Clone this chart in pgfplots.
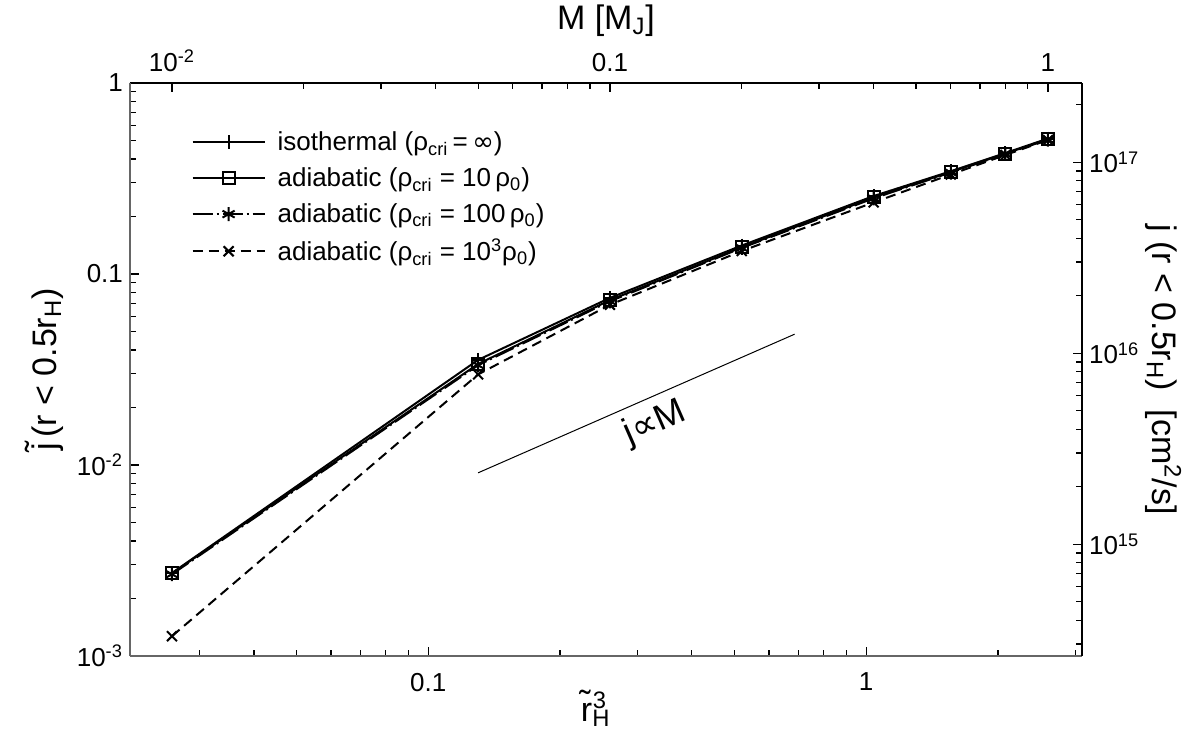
\documentclass[border=0pt]{standalone}
\usepackage{pgfplots}
\pgfplotsset{compat=1.18}
\usepackage{fontspec}
\setmainfont{Liberation Sans}
\newfontfamily\dejavu{DejaVu Sans}
\begin{document}
\begin{tikzpicture}
\useasboundingbox (0,0) rectangle (598pt,364.5pt);
\pgfplotsset{
  every axis/.append style={
    scale only axis, width=476pt, height=286.5pt,
    at={(65pt,36.5pt)}, anchor=south west,
    tick label style={font=\fontsize{13}{15}\selectfont},
    label style={font=\fontsize{17}{20}\selectfont},
    axis line style={line width=0.8pt},
    major tick length=4.5pt, minor tick length=2.8pt,
    every tick/.style={black, line width=0.6pt},
    xmode=log, ymode=log,
  },
  legend image code/.code={
    \draw[#1, mark repeat=2, mark phase=2] plot coordinates {(0pt,0pt) (18pt,0pt) (36pt,0pt)};
  },
}
% main axis: top M [M_J], left tilde j
\begin{axis}[
  xmin=0.00802, xmax=1.196, ymin=0.001, ymax=1,
  axis x line*=top, axis y line*=left,
  y axis line style={black!60, line width=1.1pt},
  xtick={0.01,0.1,1}, xticklabels={10\textsuperscript{-2},0.1,1},
  xticklabel style={yshift=2pt},
  minor xtick={0.02,0.03,0.04,0.05,0.06,0.07,0.08,0.09,0.2,0.3,0.4,0.5,0.6,0.7,0.8,0.9},
  ytick={0.001,0.01,0.1,1}, yticklabels={10\textsuperscript{-3},10\textsuperscript{-2},0.1,1},
  minor ytick={0.002,0.003,0.004,0.005,0.006,0.007,0.008,0.009,0.02,0.03,0.04,0.05,0.06,0.07,0.08,0.09,0.2,0.3,0.4,0.5,0.6,0.7,0.8,0.9},
  xlabel={M [M\textsubscript{J}]},
  ylabel={\~{j}\,(r < 0.5r\textsubscript{H})},
  legend style={draw=none, fill=none, at={(0.058,0.93)}, anchor=north west,
    font=\fontsize{13}{15}\selectfont, row sep=3pt, legend cell align=left,
    /tikz/every odd column/.append style={column sep=4pt}},
]
\addplot[black, line width=1pt, mark=+, mark size=3.5pt, mark options={solid}] coordinates {
 (0.01,0.00272) (0.05,0.0355) (0.1,0.075) (0.2,0.141) (0.4,0.256) (0.6,0.345) (0.8,0.43) (1.0,0.512)};
\addlegendentry{isothermal (ρ\textsubscript{cri}\,=\,{\dejavu ∞})}
\addplot[black, line width=1pt, mark=square, mark size=3pt, mark options={solid}] coordinates {
 (0.01,0.00271) (0.05,0.0338) (0.1,0.073) (0.2,0.138) (0.4,0.252) (0.6,0.342) (0.8,0.427) (1.0,0.508)};
\addlegendentry{adiabatic (ρ\textsubscript{cri} = 10\,ρ\textsubscript{0})}
\addplot[black, line width=1pt, dash pattern=on 10pt off 2pt on 1pt off 2pt, mark=asterisk, mark size=3.5pt, mark options={solid}] coordinates {
 (0.01,0.00268) (0.05,0.0333) (0.1,0.072) (0.2,0.137) (0.4,0.249) (0.6,0.34) (0.8,0.425) (1.0,0.506)};
\addlegendentry{adiabatic (ρ\textsubscript{cri} = 100\,ρ\textsubscript{0})}
\addplot[black, line width=1pt, dash pattern=on 5pt off 3pt, mark=x, mark size=3.5pt, mark options={solid}] coordinates {
 (0.01,0.00127) (0.05,0.0298) (0.1,0.069) (0.2,0.132) (0.4,0.237) (0.6,0.332) (0.8,0.42) (1.0,0.503)};
\addlegendentry{adiabatic (ρ\textsubscript{cri} = 10\textsuperscript{3}ρ\textsubscript{0})}
\addplot[black, line width=0.5pt, forget plot] coordinates {(0.05,0.0091) (0.264,0.0484)};
\node[rotate=23.6, font=\fontsize{18}{20}\selectfont] at (axis cs:0.127,0.0165) {j{\dejavu ∝}M};
\end{axis}
% secondary axis: bottom tilde r_H^3, right j
\begin{axis}[
  xmin=0.02085, xmax=3.11, ymin=2.6e14, ymax=2.6e17,
  axis x line*=bottom, axis y line*=right,
  x axis line style={black!60, line width=1.1pt},
  xtick={0.1,1}, xticklabels={0.1,1},
  xticklabel style={yshift=-5pt},
  minor xtick={0.03,0.04,0.05,0.06,0.07,0.08,0.09,0.2,0.3,0.4,0.5,0.6,0.7,0.8,0.9,2,3},
  ytick={1e15,1e16,1e17}, yticklabels={10\textsuperscript{15},10\textsuperscript{16},10\textsuperscript{17}},
  minor ytick={3e14,4e14,5e14,6e14,7e14,8e14,9e14,2e15,3e15,4e15,5e15,6e15,7e15,8e15,9e15,2e16,3e16,4e16,5e16,6e16,7e16,8e16,9e16,2e17},
  xlabel={\~{r}\textsubscript{H}\hspace{-0.52em}\textsuperscript{3}},
  xlabel style={at={(axis description cs:0.5,0)}, anchor=north, inner sep=0pt, yshift=-17pt, xshift=-6pt},
  ylabel={j (r < 0.5r\textsubscript{H})\ \ [cm\textsuperscript{2}/s]},
  y label style={rotate=180},
  ylabel shift=-4pt,
]
\end{axis}
\end{tikzpicture}
\end{document}
